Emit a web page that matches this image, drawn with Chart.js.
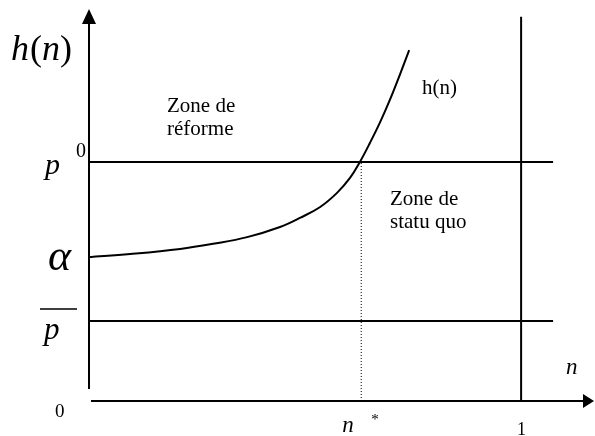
<!DOCTYPE html>
<html>
<head>
<meta charset="utf-8">
<script src="https://cdn.jsdelivr.net/npm/chart.js@4/dist/chart.umd.min.js"></script>
<style>
  html, body { margin: 0; padding: 0; background: #fff; }
  #wrap { width: 595px; height: 436px; }
</style>
</head>
<body>
<div id="wrap"><canvas id="c" width="595" height="436"></canvas></div>
<script>
// ---- data (schematic values) ----
const curveN = [0, 0.095, 0.211, 0.287, 0.366, 0.442, 0.488, 0.535, 0.574, 0.604, 0.627, 0.650, 0.674, 0.697, 0.720, 0.741];
const curveH = [0.367, 0.375, 0.388, 0.401, 0.418, 0.444, 0.467, 0.495, 0.531, 0.569, 0.610, 0.658, 0.712, 0.770, 0.834, 0.895];
const p0 = 0.61;        // p^0
const alphaVal = 0.367; // alpha = h(0)
const pBar = 0.204;     // p-bar
const nStar = 0.63;     // n*
const nOne = 1;         // n = 1
const hLineEnd = [0, 1.074];     // horizontal lines' extent in n
const vLineTop = 0.98;           // top of vertical line at n = 1
const xRange = [0, 1.171];
const yRange = [0, 1];
const yTickLabels = ['p', 'α', 'p'];
const xTickLabels = ['0', 'n', '1'];
const curveLabel = 'h(n)';
const axisTitleY = ['h', '(', 'n', ')'];
const axisTitleX = 'n';
const zoneReform = ['Zone de', 'réforme'];
const zoneStatu = ['Zone de', 'statu quo'];

const curvePts = curveN.map((n, i) => ({ x: n, y: curveH[i] }));

const SERIF = '"Liberation Serif", "Times New Roman", "DejaVu Serif", serif';

const overlay = {
  id: 'overlay',
  afterDatasetsDraw(chart) {
    const ctx = chart.ctx;
    const xs = chart.scales.x, ys = chart.scales.y;
    const X = v => xs.getPixelForValue(v);
    const Y = v => ys.getPixelForValue(v);
    const x0 = X(0), y0 = Y(0);
    ctx.save();
    ctx.strokeStyle = '#000';
    ctx.fillStyle = '#000';
    ctx.lineWidth = 2;
    // y axis
    ctx.beginPath();
    ctx.moveTo(x0, Y(yRange[1]) + 14);
    ctx.lineTo(x0, y0 - 12);
    ctx.stroke();
    ctx.beginPath();
    ctx.moveTo(x0, Y(yRange[1]));
    ctx.lineTo(x0 - 7, Y(yRange[1]) + 15);
    ctx.lineTo(x0 + 7, Y(yRange[1]) + 15);
    ctx.closePath();
    ctx.fill();
    // x axis
    const xr = X(xRange[1]) - 1;
    ctx.beginPath();
    ctx.moveTo(x0 + 2, y0);
    ctx.lineTo(xr - 10, y0);
    ctx.stroke();
    ctx.beginPath();
    ctx.moveTo(xr, y0);
    ctx.lineTo(xr - 11, y0 - 7);
    ctx.lineTo(xr - 11, y0 + 7);
    ctx.closePath();
    ctx.fill();

    ctx.textBaseline = 'alphabetic';
    ctx.textAlign = 'left';
    // y axis title h(n): italic letters, upright parentheses
    let tx = x0 - 78;
    const tFonts = ['italic 36px ', '36px ', 'italic 36px ', '36px '];
    axisTitleY.forEach((s, i) => {
      ctx.font = tFonts[i] + SERIF;
      ctx.fillText(s, tx, 60);
      tx += ctx.measureText(s).width + (i === 0 ? 1 : 0);
    });
    // p^0
    ctx.font = 'italic 30px ' + SERIF;
    ctx.fillText(yTickLabels[0], x0 - 44, Y(p0) + 12);
    ctx.font = '20px ' + SERIF;
    ctx.fillText('0', x0 - 13, Y(p0) - 5);
    // alpha
    ctx.font = 'italic 44px ' + SERIF;
    ctx.fillText(yTickLabels[1], x0 - 41, Y(alphaVal) + 13);
    // p bar
    ctx.font = 'italic 31px ' + SERIF;
    ctx.fillText(yTickLabels[2], x0 - 45, Y(pBar) + 18);
    ctx.lineWidth = 1.5;
    ctx.beginPath();
    ctx.moveTo(x0 - 49, Y(pBar) - 12);
    ctx.lineTo(x0 - 12, Y(pBar) - 12);
    ctx.stroke();
    // origin 0
    ctx.font = '19px ' + SERIF;
    ctx.fillText(xTickLabels[0], x0 - 34, y0 + 16);
    // n*
    ctx.font = 'italic 23px ' + SERIF;
    ctx.fillText(xTickLabels[1], X(nStar) - 19, y0 + 31);
    ctx.font = '15px ' + SERIF;
    ctx.fillText('*', X(nStar) + 10, y0 + 23);
    // 1
    ctx.font = '18px ' + SERIF;
    ctx.fillText(xTickLabels[2], X(nOne) - 4, y0 + 34);
    // x axis title n
    ctx.font = 'italic 23px ' + SERIF;
    ctx.fillText(axisTitleX, 566, y0 - 27);
    // zone labels
    ctx.font = '21px ' + SERIF;
    ctx.fillText(zoneReform[0], 167, 112);
    ctx.fillText(zoneReform[1], 167, 135);
    ctx.fillText(curveLabel, 422, 94);
    ctx.fillText(zoneStatu[0], 390, 205);
    ctx.fillText(zoneStatu[1], 390, 228);
    ctx.restore();
  }
};

new Chart(document.getElementById('c'), {
  type: 'scatter',
  data: {
    datasets: [
      {
        label: 'h(n)',
        data: curvePts,
        showLine: true,
        borderColor: '#000',
        borderWidth: 2,
        pointRadius: 0,
        tension: 0.4,
        fill: false
      },
      {
        label: 'p0',
        data: [{ x: hLineEnd[0], y: p0 }, { x: hLineEnd[1], y: p0 }],
        showLine: true, borderColor: '#000', borderWidth: 2, pointRadius: 0
      },
      {
        label: 'pbar',
        data: [{ x: hLineEnd[0], y: pBar }, { x: hLineEnd[1], y: pBar }],
        showLine: true, borderColor: '#000', borderWidth: 2, pointRadius: 0
      },
      {
        label: 'n=1',
        data: [{ x: nOne, y: 0 }, { x: nOne, y: vLineTop }],
        showLine: true, borderColor: '#000', borderWidth: 2, pointRadius: 0
      },
      {
        label: 'n*',
        data: [{ x: nStar, y: 0 }, { x: nStar, y: p0 }],
        showLine: true, borderColor: '#000', borderWidth: 1, borderDash: [1, 2], pointRadius: 0
      }
    ]
  },
  options: {
    responsive: false,
    animation: false,
    devicePixelRatio: 1,
    layout: { padding: { left: 89, right: 0, top: 9, bottom: 35 } },
    plugins: { legend: { display: false }, tooltip: { enabled: false } },
    scales: {
      x: { type: 'linear', display: false, min: xRange[0], max: xRange[1] },
      y: { type: 'linear', display: false, min: yRange[0], max: yRange[1] }
    }
  },
  plugins: [overlay]
});
</script>
</body>
</html>
